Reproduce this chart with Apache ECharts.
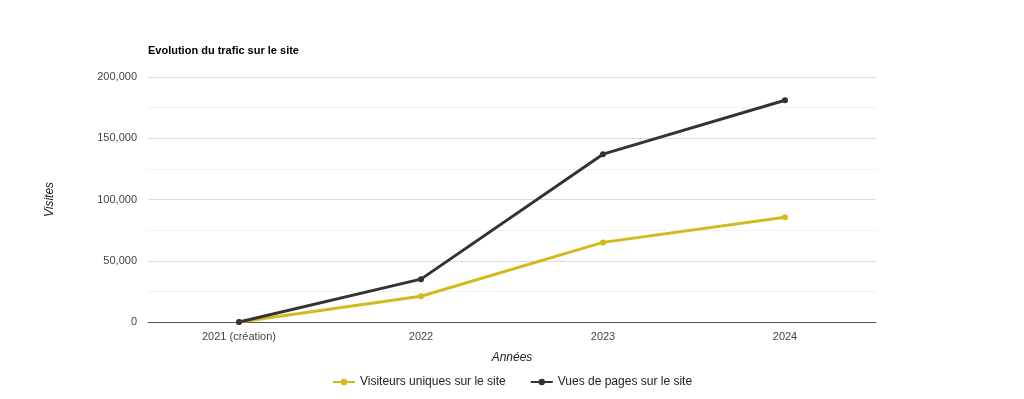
<!DOCTYPE html>
<html>
<head>
<meta charset="utf-8">
<script src="https://cdn.jsdelivr.net/npm/echarts@6/dist/echarts.min.js"></script>
<style>
  html, body { margin: 0; padding: 0; background: #fff; }
  #chart { width: 1024px; height: 399px; }
</style>
</head>
<body>
<div id="chart"></div>
<script>
const years = ['2021 (création)', '2022', '2023', '2024']
const visiteursUniques = [0, 21000, 65000, 85500]
const vuesPages = [0, 35000, 137000, 181000]

const chart = echarts.init(document.getElementById('chart'), undefined, { renderer: 'canvas' })
const font = 'Liberation Sans, Arial, sans-serif'

chart.setOption({
  backgroundColor: '#fff',
  animation: false,
  textStyle: { fontFamily: font },
  title: {
    text: 'Evolution du trafic sur le site',
    left: 143,
    top: 40,
    textStyle: { fontSize: 11, fontWeight: 'bold', color: '#000', fontFamily: font },
  },
  legend: {
    bottom: 6,
    left: 'center',
    itemWidth: 22,
    itemHeight: 8,
    itemGap: 24,
    textStyle: { fontSize: 12, color: '#222', fontFamily: font },
    data: ['Visiteurs uniques sur le site', 'Vues de pages sur le site'],
  },
  grid: { left: 148, right: 148, top: 77, bottom: 77 },
  xAxis: {
    type: 'category',
    data: years,
    boundaryGap: true,
    name: 'Années',
    nameLocation: 'middle',
    nameGap: 30,
    nameTextStyle: { fontStyle: 'italic', fontSize: 12, color: '#222' },
    axisLine: { lineStyle: { color: '#555', width: 1 } },
    axisTick: { show: false },
    axisLabel: { color: '#444', fontSize: 11, margin: 9 },
  },
  yAxis: {
    type: 'value',
    min: 0,
    max: 200000,
    interval: 50000,
    name: 'Visites',
    nameLocation: 'middle',
    nameGap: 92,
    nameRotate: 90,
    nameTextStyle: { fontStyle: 'italic', fontSize: 12, color: '#222' },
    axisLine: { show: false },
    axisTick: { show: false },
    axisLabel: {
      color: '#444',
      fontSize: 11,
      margin: 11,
      formatter: (v) => v.toLocaleString('en-US'),
    },
    splitLine: { lineStyle: { color: '#dcdcdc' } },
    minorTick: { show: false, splitNumber: 2 },
    minorSplitLine: { show: true, lineStyle: { color: '#f2f2f2' } },
  },
  series: [
    {
      name: 'Visiteurs uniques sur le site',
      type: 'line',
      data: visiteursUniques,
      symbol: 'circle',
      symbolSize: 6,
      lineStyle: { color: '#d4b91c', width: 3 },
      itemStyle: { color: '#d4b91c' },
    },
    {
      name: 'Vues de pages sur le site',
      type: 'line',
      data: vuesPages,
      symbol: 'circle',
      symbolSize: 6,
      lineStyle: { color: '#333333', width: 3 },
      itemStyle: { color: '#333333' },
    },
  ],
})
</script>
</body>
</html>
